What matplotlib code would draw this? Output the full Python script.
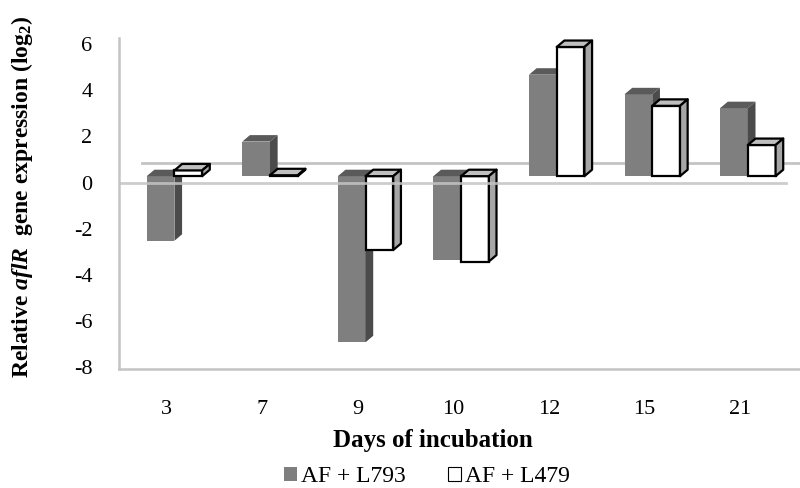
import matplotlib
matplotlib.use("Agg")
import matplotlib.pyplot as plt
from matplotlib.patches import Polygon, Patch

# relative aflR expression (log2)
days = ["3", "7", "9", "10", "12", "15", "21"]
af_l793 = [-2.8, 1.5, -7.2, -3.65, 4.4, 3.55, 2.95]
af_l479 = [0.25, 0.04, -3.2, -3.7, 5.6, 3.05, 1.35]
series_names = ["AF + L793", "AF + L479"]
yticks = [-8, -6, -4, -2, 0, 2, 4, 6]

plt.rcParams["font.family"] = ["Liberation Serif", "DejaVu Serif"]
plt.rcParams["mathtext.fontset"] = "custom"
plt.rcParams["mathtext.rm"] = "Liberation Serif:bold"
plt.rcParams["mathtext.bf"] = "Liberation Serif:bold"
plt.rcParams["mathtext.it"] = "Liberation Serif:italic:bold"
plt.rcParams["mathtext.bfit"] = "Liberation Serif:italic:bold"

fig = plt.figure(figsize=(8, 4.88), dpi=100)
ax = fig.add_axes([119 / 800, 119 / 488, 669 / 800, 331 / 488])
ax.set_xlim(-0.5, 6.5)
ax.set_ylim(-8.08, 6.27)

# oblique depth of the "3d" floor, in data units
DX, DY = 0.24, 0.84
fx, fy = DX / 3, DY / 3        # bar front plane
bx, by = 2 * DX / 3, 2 * DY / 3  # bar back plane
w = 0.29

grid_c = "#c4c4c4"
# back edge of the floor
ax.plot([-0.5 + DX, 6.5 + DX], [DY, DY], color=grid_c, lw=2, zorder=1, clip_on=False)

styles = [
    dict(front="#7f7f7f", top="#5a5a5a", side="#4b4b4b", edge="none", lw=0),
    dict(front="white", top="#bfbfbf", side="#a6a6a6", edge="black", lw=1.6),
]

z = 2
for i in range(len(days)):
    for s, vals in enumerate([af_l793, af_l479]):
        v = vals[i]
        st = styles[s]
        xl = i - w + s * w
        xr = xl + w
        lo, hi = min(0, v), max(0, v)
        ax.bar(xl + fx, hi - lo, width=w, bottom=lo + fy, align="edge",
               color=st["front"], edgecolor=st["edge"], linewidth=st["lw"],
               zorder=z, clip_on=False)
        top = [(xl + fx, hi + fy), (xr + fx, hi + fy), (xr + bx, hi + by), (xl + bx, hi + by)]
        side = [(xr + fx, lo + fy), (xr + bx, lo + by), (xr + bx, hi + by), (xr + fx, hi + fy)]
        for pts, c in [(top, st["top"]), (side, st["side"])]:
            ax.add_patch(Polygon(pts, closed=True, facecolor=c, edgecolor=st["edge"],
                                 linewidth=st["lw"], joinstyle="round", zorder=z, clip_on=False))
        z += 1

# front edge of the floor, drawn over the bars like the original
ax.plot([-0.5, 6.48], [0, 0], color=grid_c, lw=2, zorder=z + 1, alpha=0.85)
# bottom line
ax.plot([-0.5, 6.62], [-8.08, -8.08], color=grid_c, lw=1.8, zorder=z + 1, clip_on=False)

for sp in ["top", "right", "bottom"]:
    ax.spines[sp].set_visible(False)
ax.spines["left"].set_color(grid_c)
ax.spines["left"].set_linewidth(1.8)

ax.set_yticks(yticks)
ax.set_yticklabels([str(t) for t in yticks])
ax.set_xticks(range(len(days)))
ax.set_xticklabels(days)
ax.tick_params(axis="y", length=0, pad=19, labelsize=16)
ax.tick_params(axis="x", length=0, pad=22, labelsize=16)

fig.text(22 / 800, 1 - 197 / 488,
         r"Relative $\mathbfit{aflR}$  gene expression (log$_\mathbf{2}$)",
         rotation=90, ha="center", va="center", fontsize=17, fontweight="bold")
fig.text(433 / 800, 1 - 440 / 488, "Days of incubation", ha="center", va="center",
         fontsize=18, fontweight="bold")

handles = [Patch(facecolor="#7f7f7f", edgecolor="none"),
           Patch(facecolor="white", edgecolor="black", linewidth=0.8)]
fig.legend(handles, series_names, loc="center", bbox_to_anchor=(427 / 800, 1 - 477 / 488),
           ncol=2, frameon=False, fontsize=17, handlelength=0.55, handleheight=0.55,
           handletextpad=0.15, columnspacing=1.8, borderpad=0)

fig.savefig("out.png", dpi=100)
